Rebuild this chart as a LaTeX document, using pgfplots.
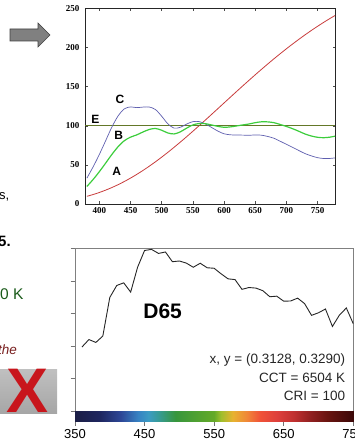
\documentclass[border=0pt]{standalone}
\usepackage{pgfplots}
\pgfplotsset{compat=1.18}
\usepackage{fontspec}
\setmainfont{Liberation Sans}
\newfontfamily\tnr{Liberation Serif}
\definecolor{curveA}{RGB}{200,60,60}
\definecolor{curveB}{RGB}{60,205,60}
\definecolor{curveC}{RGB}{95,95,175}
\definecolor{curveE}{RGB}{100,120,40}
\definecolor{kgreen}{RGB}{25,90,25}
\definecolor{kred}{RGB}{120,30,30}
\definecolor{bigx}{RGB}{200,22,28}
\begin{document}
\begin{tikzpicture}[x=1pt,y=1pt]
\useasboundingbox (0pt,0pt) rectangle (355pt,445pt);
\clip (0pt,0pt) rectangle (355pt,445pt);
% ---- fragments of the slide on the left
\draw[black!75, fill=black!50, line width=0.6pt] (10pt,416pt) -- (38pt,416pt) -- (38pt,422pt) -- (50pt,410pt) -- (38pt,398pt) -- (38pt,404pt) -- (10pt,404pt) -- cycle;
\node[anchor=base west, inner sep=0, font=\fontsize{13}{15}\selectfont] at (-1pt,245.5pt) {s,};
\node[anchor=base west, inner sep=0, font=\fontsize{15}{17}\selectfont\bfseries] at (-2pt,198pt) {5.};
\node[anchor=base west, inner sep=0, text=kgreen, font=\fontsize{15.5}{17}\selectfont] at (0pt,145pt) {0 K};
\node[anchor=base west, inner sep=0, text=kred, font=\fontsize{13.5}{15}\selectfont\itshape] at (-2pt,90pt) {the};
\shade[top color=black!25, middle color=white, bottom color=black!35] (0pt,31pt) rectangle (57pt,75pt);
\node[anchor=base, inner sep=0, text=bigx, font=\fontsize{63}{63}\selectfont\bfseries] at (27.5pt,32pt) {X};
% ---- top chart
\begin{axis}[at={(85pt,241pt)}, anchor=south west, width=250pt, height=195.7pt, scale only axis,
  xmin=377, xmax=778, ymin=0, ymax=250,
  xtick={400,450,...,750}, ytick={0,50,...,250},
  tick align=inside, major tick length=2.5pt,
  tick style={black!70, line width=0.4pt},
  axis line style={black!85, line width=0.7pt},
  ticklabel style={font=\tnr\bfseries\fontsize{9}{10}\selectfont},
  yticklabel style={xshift=-2pt},
  /pgf/number format/assume math mode=true]
\addplot[curveA, line width=0.8pt, smooth] coordinates {
(380,9.80) (390,12.09) (400,14.71) (410,17.68) (420,20.99) (430,24.67) (440,28.70) (450,33.09) (460,37.81) (470,42.87) (480,48.24) (490,53.91) (500,59.86) (510,66.06) (520,72.50) (530,79.13) (540,85.95) (550,92.91) (560,100.00) (570,107.18) (580,114.44) (590,121.73) (600,129.04) (610,136.35) (620,143.62) (630,150.84) (640,157.98) (650,165.03) (660,171.96) (670,178.77) (680,185.43) (690,191.93) (700,198.26) (710,204.41) (720,210.36) (730,216.12) (740,221.67) (750,227.00) (760,232.12) (770,237.01) (780,241.68)};
\addplot[curveE, line width=0.9pt] coordinates {(377,100) (778,100)};
\addplot[curveC, line width=0.7pt, smooth] coordinates {
(380,33.0) (390,47.4) (400,63.3) (410,80.6) (420,98.1) (430,112.4) (440,121.5) (450,124.0) (460,123.1) (470,123.8) (480,123.9) (490,120.7) (500,112.1) (510,102.3) (520,96.9) (530,98.0) (540,102.1) (550,105.2) (560,105.3) (570,102.3) (580,97.8) (590,93.2) (600,89.7) (610,88.4) (620,88.1) (630,88.0) (640,87.8) (650,88.2) (660,87.9) (670,86.3) (680,84.0) (690,80.2) (700,76.3) (710,72.4) (720,68.3) (730,64.4) (740,61.5) (750,59.2) (760,58.1) (770,58.2) (780,59.1)};
\addplot[curveB, line width=1.2pt, smooth] coordinates {
(380,22.4) (390,31.3) (400,41.3) (410,52.1) (420,63.2) (430,73.1) (440,80.8) (450,85.4) (460,88.3) (470,92.0) (480,95.2) (490,96.5) (500,94.2) (510,90.7) (520,89.5) (530,92.2) (540,96.9) (550,101.0) (560,102.8) (570,102.6) (580,101.0) (590,99.2) (600,98.0) (610,98.5) (620,99.7) (630,101.0) (640,102.2) (650,103.9) (660,105.0) (670,104.9) (680,103.9) (690,101.6) (700,99.1) (710,96.2) (720,92.9) (730,89.4) (740,86.9) (750,85.2) (760,84.7) (770,85.4) (780,87.0)};
\node[font=\fontsize{12}{12}\selectfont\bfseries] at (axis cs:433,133.5) {C};
\node[font=\fontsize{12}{12}\selectfont\bfseries] at (axis cs:393.6,108) {E};
\node[font=\fontsize{12}{12}\selectfont\bfseries] at (axis cs:431,88) {B};
\node[font=\fontsize{12}{12}\selectfont\bfseries] at (axis cs:428,41.3) {A};
\end{axis}
% ---- bottom chart
\begin{axis}[at={(75pt,23.3pt)}, anchor=south west, width=278.3pt, height=173.4pt, scale only axis,
  xmin=350, xmax=750, ymin=-7.8, ymax=118.6,
  xtick={350,450,...,750}, ytick={0,23.72,47.44,71.16,94.88,118.6}, yticklabels={},
  tick align=outside, tick pos=left, major tick length=4.5pt,
  tick style={black!55, line width=0.6pt},
  axis line style={black!50, line width=0.8pt},
  xticklabel style={font=\fontsize{13}{15}\selectfont},
  /pgf/number format/assume math mode=true,
  colormap={spec}{rgb255(0pt)=(28,30,70); rgb255(35pt)=(30,38,95); rgb255(65pt)=(45,70,150); rgb255(90pt)=(55,130,195); rgb255(105pt)=(60,155,195); rgb255(120pt)=(55,155,150); rgb255(145pt)=(55,150,60); rgb255(200pt)=(100,170,40); rgb255(210pt)=(160,190,45); rgb255(227pt)=(232,178,48); rgb255(247pt)=(240,135,56); rgb255(266pt)=(240,82,56); rgb255(290pt)=(222,64,60); rgb255(314pt)=(192,48,48); rgb255(338pt)=(144,32,32); rgb255(362pt)=(106,20,16); rgb255(400pt)=(60,8,8)},
  point meta min=350, point meta max=750]
\addplot[patch, patch type=rectangle, shader=interp, point meta=explicit] coordinates {
(350,-7.8) [350] (400,-7.8) [400] (400,0) [400] (350,0) [350]
(400,-7.8) [400] (450,-7.8) [450] (450,0) [450] (400,0) [400]
(450,-7.8) [450] (500,-7.8) [500] (500,0) [500] (450,0) [450]
(500,-7.8) [500] (550,-7.8) [550] (550,0) [550] (500,0) [500]
(550,-7.8) [550] (600,-7.8) [600] (600,0) [600] (550,0) [550]
(600,-7.8) [600] (650,-7.8) [650] (650,0) [650] (600,0) [600]
(650,-7.8) [650] (700,-7.8) [700] (700,0) [700] (650,0) [650]
(700,-7.8) [700] (750,-7.8) [750] (750,0) [750] (700,0) [700]};
\addplot[black!85, line width=0.9pt] coordinates {
(360,46.64) (365,49.36) (370,52.09) (375,51.03) (380,49.98) (385,52.31) (390,54.65) (395,68.70) (400,82.75) (405,87.12) (410,91.49) (415,92.46) (420,93.43) (425,90.06) (430,86.68) (435,95.77) (440,104.87) (445,110.94) (450,117.01) (455,117.41) (460,117.81) (465,116.34) (470,114.86) (475,115.39) (480,115.92) (485,112.37) (490,108.81) (495,109.08) (500,109.35) (505,108.58) (510,107.80) (515,106.30) (520,104.79) (525,106.24) (530,107.69) (535,106.05) (540,104.41) (545,104.23) (550,104.05) (555,102.02) (560,100.00) (565,98.17) (570,96.33) (575,96.06) (580,95.79) (585,92.24) (590,88.69) (595,89.35) (600,90.01) (605,89.80) (610,89.60) (615,88.65) (620,87.70) (625,85.49) (630,83.29) (635,83.49) (640,83.70) (645,81.86) (650,80.03) (655,80.12) (660,80.21) (665,81.25) (670,82.28) (675,80.28) (680,78.28) (685,74.00) (690,69.72) (695,70.67) (700,71.61) (705,72.98) (710,74.35) (715,67.98) (720,61.60) (725,65.74) (730,69.89) (735,72.49) (740,75.09) (745,69.34) (750,63.59)};
\node[font=\fontsize{21}{21}\selectfont\bfseries] at (axis cs:476,73) {D65};
\node[anchor=east, inner sep=0, text=black!85, font=\fontsize{13.5}{14}\selectfont] at (axis cs:738.5,37.2) {x, y = (0.3128, 0.3290)};
\node[anchor=east, inner sep=0, text=black!85, font=\fontsize{13.5}{14}\selectfont] at (axis cs:738.5,23.8) {CCT = 6504 K};
\node[anchor=east, inner sep=0, text=black!85, font=\fontsize{13.5}{14}\selectfont] at (axis cs:738.5,11.2) {CRI = 100};
\end{axis}
\end{tikzpicture}
\end{document}
